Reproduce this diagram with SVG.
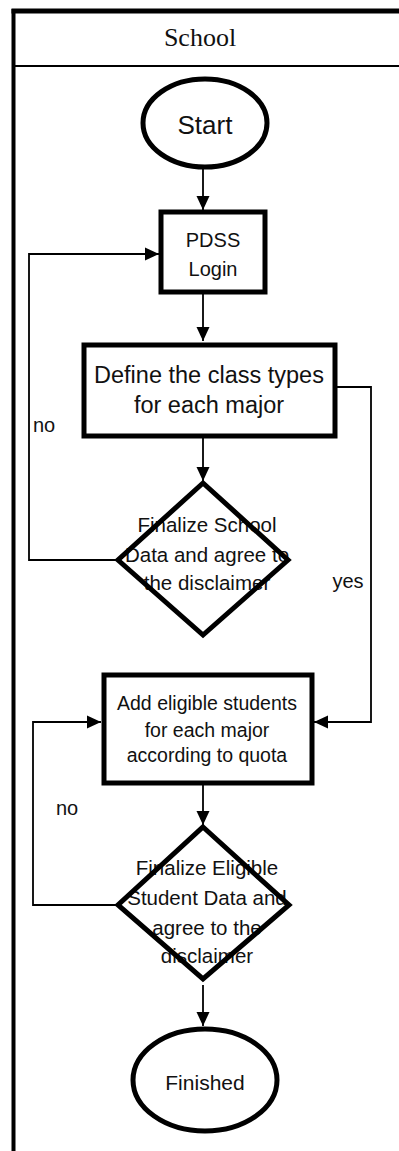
<svg xmlns="http://www.w3.org/2000/svg" width="399" height="1151" viewBox="0 0 399 1151">
<style>
.t{font-family:"Liberation Sans",Arial,sans-serif;fill:#111;text-anchor:middle}
.n{fill:#fff;stroke:#000;stroke-width:5}
.f{fill:#fff;stroke:none}
.s{fill:none;stroke:#000;stroke-width:5}
.c{fill:none;stroke:#000;stroke-width:1.8}
</style>
<defs>
<marker id="ah" markerUnits="userSpaceOnUse" markerWidth="14" markerHeight="14" refX="14" refY="7" orient="auto">
<path d="M0,0.5 L14,7 L0,13.5 z" fill="#000"/>
</marker>
</defs>
<rect width="399" height="1151" fill="#fff"/>
<g id="lane">
<line x1="11.5" y1="11" x2="399" y2="11" stroke="#000" stroke-width="5"/>
<line x1="13.5" y1="9" x2="13.5" y2="1151" stroke="#000" stroke-width="4"/>
<line x1="13" y1="66" x2="399" y2="66" stroke="#000" stroke-width="2"/>
<text x="200" y="46" font-family="'Liberation Serif',serif" font-size="26" text-anchor="middle" fill="#111">School</text>
</g>
<g id="connectors">
<path class="c" d="M203,168 L203,210" marker-end="url(#ah)"/>
<path class="c" d="M203,294 L203,341" marker-end="url(#ah)"/>
<path class="c" d="M203,438 L203,481" marker-end="url(#ah)"/>
<path class="c" d="M117,560 L29,560 L29,254 L159,254" marker-end="url(#ah)"/>
<path class="c" d="M336,387 L371,387 L371,722 L314,722" marker-end="url(#ah)"/>
<path class="c" d="M203,785 L203,825" marker-end="url(#ah)"/>
<path class="c" d="M117,905 L33,905 L33,722 L101,722" marker-end="url(#ah)"/>
<path class="c" d="M203,985 L203,1026" marker-end="url(#ah)"/>
<text class="t" x="44" y="432" font-size="20">no</text>
<text class="t" x="348" y="588" font-size="20">yes</text>
<text class="t" x="67" y="815" font-size="20">no</text>
</g>
<g id="start">
<ellipse class="n" cx="205" cy="123" rx="62" ry="44"/>
<text class="t" x="205" y="134" font-size="26">Start</text>
</g>
<g id="pdss">
<rect class="n" x="161" y="212" width="104" height="80"/>
<text class="t" x="213" y="247" font-size="20">PDSS</text>
<text class="t" x="213" y="276" font-size="20">Login</text>
</g>
<g id="define">
<rect class="n" x="84" y="345" width="251" height="91"/>
<text class="t" x="209" y="383" font-size="23.5">Define the class types</text>
<text class="t" x="209" y="413" font-size="23.5">for each major</text>
</g>
<g id="finalize1">
<polygon class="f" points="203,483 288,560 203,635 118,560"/>
<text class="t" x="207" y="532" font-size="20.5">Finalize School</text>
<text class="t" x="207" y="562" font-size="20.5">Data and agree to</text>
<text class="t" x="207" y="590" font-size="20.5">the disclaimer</text>
<polygon class="s" points="203,483 288,560 203,635 118,560"/>
</g>
<g id="add">
<rect class="n" x="104" y="675" width="208" height="108"/>
<text class="t" x="207" y="710" font-size="19.5">Add eligible students</text>
<text class="t" x="207" y="737" font-size="19.5">for each major</text>
<text class="t" x="207" y="762" font-size="19.5">according to quota</text>
</g>
<g id="finalize2">
<polygon class="f" points="203,827 289,905 203,979 118,905"/>
<text class="t" x="207" y="875" font-size="20.5">Finalize Eligible</text>
<text class="t" x="207" y="905" font-size="20.5">Student Data and</text>
<text class="t" x="207" y="935" font-size="20.5">agree to the</text>
<text class="t" x="207" y="963" font-size="20.5">disclaimer</text>
<polygon class="s" points="203,827 289,905 203,979 118,905"/>
</g>
<g id="finished">
<ellipse class="n" cx="205" cy="1080" rx="72" ry="51"/>
<text class="t" x="205" y="1090" font-size="21">Finished</text>
</g>
</svg>
